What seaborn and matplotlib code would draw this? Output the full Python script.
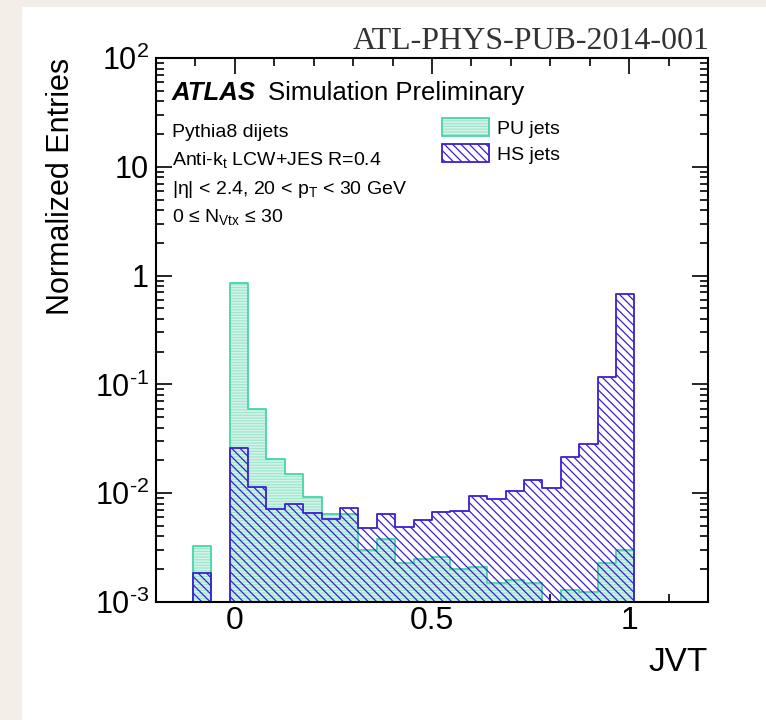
import numpy as np
import pandas as pd
import matplotlib
matplotlib.use("Agg")
import matplotlib.pyplot as plt
import seaborn as sns
from matplotlib.patches import Patch, Rectangle
from matplotlib.legend_handler import HandlerTuple
from matplotlib.ticker import MultipleLocator, LogLocator, NullFormatter

# ---------------- data ----------------
bin_edges = list(np.linspace(-0.2, 1.2, 31))     # 30 bins, width 0.0467
pu_values = [0, 0, 0.0033, 0, 0.85, 0.060, 0.0207, 0.0151, 0.0093, 0.0064,
             0.0064, 0.0030, 0.0038, 0.0023, 0.0025, 0.0026, 0.0020, 0.0021,
             0.0015, 0.0016, 0.0015, 0, 0.0013, 0.00124, 0.0023, 0.0030,
             0, 0, 0, 0]
hs_values = [0, 0, 0.00185, 0, 0.0262, 0.0113, 0.0071, 0.0079, 0.0066, 0.0058,
             0.0073, 0.0048, 0.0065, 0.0049, 0.0057, 0.0067, 0.0069, 0.0095,
             0.0088, 0.0104, 0.0132, 0.0112, 0.0216, 0.0281, 0.117, 0.679,
             0, 0, 0, 0]
series_labels = ["PU jets", "HS jets"]
x_ticks = [0, 0.5, 1]
x_tick_labels = ["0", "0.5", "1"]
y_ticks = [1e-3, 1e-2, 1e-1, 1, 10, 100]
y_tick_labels = ["$10^{\\text{-}3}$", "$10^{\\text{-}2}$", "$10^{\\text{-}1}$",
                 "1", "10", "$10^{2}$"]
info_lines = ["Pythia8 dijets",
              "Anti-k$_{\\mathrm{t}}$ LCW+JES R=0.4",
              "|η| < 2.4, 20 < p$_{\\mathrm{T}}$ < 30 GeV",
              "0 ≤ N$_{\\mathrm{Vtx}}$ ≤ 30"]

# ---------------- style ----------------
W, H = 766, 720
plt.rcParams["font.family"] = ["Liberation Sans", "DejaVu Sans"]
plt.rcParams["mathtext.fontset"] = "custom"
plt.rcParams["mathtext.rm"] = "Liberation Sans"
plt.rcParams["mathtext.it"] = "Liberation Sans:italic"
plt.rcParams["mathtext.bf"] = "Liberation Sans:bold"
plt.rcParams["mathtext.sf"] = "Liberation Sans"
plt.rcParams["hatch.linewidth"] = 0.9

PU_FACE = "#d4f5e9"
PU_HATCH = "#9fe6cd"
PU_EDGE = "#48d4a4"
HS_EDGE = "#3a1fd3"
YMIN, YMAX = 1e-3, 1e2

fig = plt.figure(figsize=(W / 100, H / 100), dpi=100, facecolor="#f3efe8")
fig.patches.append(Rectangle((22 / W, 0), 1 - 22 / W, 1 - 7 / H,
                             transform=fig.transFigure, facecolor="white",
                             edgecolor="none", zorder=-1))
ax = fig.add_axes([156 / W, 1 - 602 / H, 552 / W, 544 / H])
ax.set_yscale("log")

edges_arr = np.asarray(bin_edges)
centers = 0.5 * (edges_arr[:-1] + edges_arr[1:])
pu = np.asarray(pu_values, dtype=float)
hs = np.asarray(hs_values, dtype=float)
# empty bins are drawn on the axis floor, as ROOT does
df_pu = pd.DataFrame({"JVT": centers, "w": np.where(pu > 0, pu, YMIN)})
df_hs = pd.DataFrame({"JVT": centers, "w": np.where(hs > 0, hs, YMIN)})

HS_HATCH = "\\" * 4

sns.histplot(data=df_pu, x="JVT", weights="w", bins=bin_edges, element="step",
             fill=True, color=PU_EDGE, facecolor=PU_FACE, edgecolor=PU_HATCH,
             hatch="------", linewidth=0, ax=ax, zorder=2)
sns.histplot(data=df_pu, x="JVT", weights="w", bins=bin_edges, element="step",
             fill=False, color=PU_EDGE, linewidth=1.3, ax=ax, zorder=3)
sns.histplot(data=df_hs, x="JVT", weights="w", bins=bin_edges, element="step",
             fill=True, color=HS_EDGE, facecolor="none", edgecolor=HS_EDGE,
             hatch=HS_HATCH, linewidth=1.3, ax=ax, zorder=4)

ax.set_xlim(-0.2, 1.2)
ax.set_ylim(YMIN, YMAX)
ax.set_xticks(x_ticks, x_tick_labels)
ax.xaxis.set_minor_locator(MultipleLocator(0.1))
ax.set_yticks(y_ticks, y_tick_labels)
ax.yaxis.set_minor_locator(LogLocator(base=10, subs=np.arange(2, 10), numticks=30))
ax.yaxis.set_minor_formatter(NullFormatter())

ax.tick_params(which="both", direction="in", top=True, right=True, width=1.2,
               color="black")
ax.tick_params(which="major", length=11.5)
ax.tick_params(which="minor", length=5.8)
ax.tick_params(axis="x", which="major", labelsize=23, pad=3)
ax.tick_params(axis="y", which="major", labelsize=22, pad=5)
for s in ax.spines.values():
    s.set_linewidth(1.5)
    s.set_zorder(6)

ax.set_xlabel("JVT", fontsize=24, loc="right")
ax.xaxis.set_label_coords(1.0, -0.083)
ax.xaxis.label.set_va("top")
ax.set_ylabel("Normalized Entries", fontsize=22, loc="top")
ax.yaxis.set_label_coords(-0.172, 1.0)
ax.yaxis.label.set_va("center")

def fx(px):
    return px / W

def fy(py):
    return 1 - py / H

fig.text(fx(171.7), fy(100), "ATLAS", fontsize=18.5, fontweight="bold",
         fontstyle="italic", va="baseline")
fig.text(fx(268.3), fy(100), "Simulation Preliminary", fontsize=18.5,
         va="baseline")
for i, line in enumerate(info_lines):
    fig.text(fx(171.7), fy(136.7 + 28.4 * i), line, fontsize=14, va="baseline")

fig.text(fx(710), fy(49.3), "ATL-PHYS-PUB-2014-001", family="Liberation Serif",
         fontsize=23, color="#333333", ha="right", va="baseline")

pu_handle = (Patch(facecolor=PU_FACE, edgecolor=PU_HATCH, hatch="------", linewidth=0),
             Patch(facecolor="none", edgecolor=PU_EDGE, linewidth=1.3))
hs_handle = Patch(facecolor="white", edgecolor=HS_EDGE, hatch=HS_HATCH, linewidth=1.3)
ax.legend(handles=[pu_handle, hs_handle], labels=series_labels,
          handler_map={tuple: HandlerTuple(ndivide=1, pad=0)},
          loc="upper left", bbox_to_anchor=(0.5176, 0.8897), frameon=False,
          fontsize=14, handlelength=2.42, handleheight=1.03, handletextpad=0.43,
          labelspacing=0.35, borderpad=0, borderaxespad=0)

fig.savefig("out.png", dpi=100, facecolor=fig.get_facecolor())
